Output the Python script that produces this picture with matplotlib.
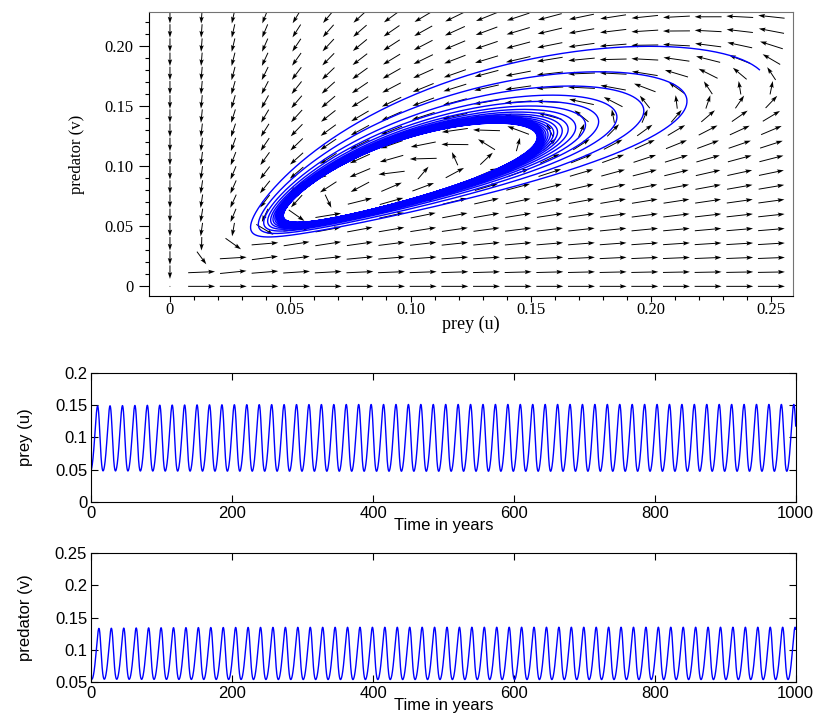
import numpy as np
import matplotlib
matplotlib.use("Agg")
import matplotlib.pyplot as plt

# Holling-Tanner predator-prey model, scaled:
#   du/dt = r [ u(1-u) - a u v / (u + d) ]
#   dv/dt = r b v (1 - h v / u)
a = 1.25       # predation rate
d = 0.03       # half saturation constant
b = 0.58       # predator / prey growth ratio
h = 1.0        # prey per predator at balance
r = 0.8164     # prey growth rate per year (gives the ~17.7 year cycle)

# starting points
u0_phase, v0_phase = 0.245, 0.18
u0_time, v0_time = 0.05, 0.055
t_phase = 400
t_end = 1000

# direction field grid
u_grid = np.linspace(0, 0.25, 20)
v_grid = np.linspace(0, 0.224, 20)


def rhs(u, v):
    du = r * (u * (1 - u) - a * u * v / (u + d))
    dv = r * b * v * (1 - h * v / np.maximum(u, 1e-6))
    return du, dv


def simulate(u, v, t_max, dt=0.05):
    n = int(t_max / dt)
    us = np.empty(n + 1)
    vs = np.empty(n + 1)
    us[0], vs[0] = u, v
    for i in range(n):
        k1u, k1v = rhs(u, v)
        k2u, k2v = rhs(u + dt / 2 * k1u, v + dt / 2 * k1v)
        k3u, k3v = rhs(u + dt / 2 * k2u, v + dt / 2 * k2v)
        k4u, k4v = rhs(u + dt * k3u, v + dt * k3v)
        u = u + dt / 6 * (k1u + 2 * k2u + 2 * k3u + k4u)
        v = v + dt / 6 * (k1v + 2 * k2v + 2 * k3v + k4v)
        us[i + 1], vs[i + 1] = u, v
    return np.arange(n + 1) * dt, us, vs


_, up, vp = simulate(u0_phase, v0_phase, t_phase)
t, ut, vt = simulate(u0_time, v0_time, t_end)

fig = plt.figure(figsize=(8.22, 7.17), dpi=100)

# ---- phase plane with direction field ----
ax1 = fig.add_axes([0.1813, 0.5872, 0.7835, 0.3961])
U, V = np.meshgrid(u_grid, v_grid)
dU, dV = rhs(U, V)
mag = np.hypot(dU, dV)
mag[mag == 0] = 1
L = 0.0112
ax1.quiver(U, V, L * dU / mag, L * dV / mag, angles="xy", scale_units="xy", scale=1,
           pivot="middle", width=0.0015, headwidth=4.5, headlength=7, headaxislength=6,
           color="black")
ax1.plot(up, vp, color="blue", lw=1.0)
ax1.set_xlim(-0.0087, 0.259)
ax1.set_ylim(-0.008, 0.228)
ax1.set_xticks([0, 0.05, 0.10, 0.15, 0.20, 0.25])
ax1.set_xticklabels(["0", "0.05", "0.10", "0.15", "0.20", "0.25"])
ax1.set_yticks([0, 0.05, 0.10, 0.15, 0.20])
ax1.set_yticklabels(["0", "0.05", "0.10", "0.15", "0.20"])
ax1.set_xticks(np.arange(0, 0.26, 0.01), minor=True)
ax1.set_yticks(np.arange(0, 0.23, 0.01), minor=True)
ax1.tick_params(axis="y", which="major", direction="out", length=7, width=0.8, pad=4, labelsize=12)
ax1.tick_params(axis="x", which="major", direction="out", length=4, width=0.8, pad=0, labelsize=12)
ax1.tick_params(which="minor", direction="out", length=3, width=0.8)
for lab in ax1.get_xticklabels() + ax1.get_yticklabels():
    lab.set_family("Liberation Serif")
for s in ["top", "right"]:
    ax1.spines[s].set_color("0.45")
    ax1.spines[s].set_linewidth(0.8)
ax1.set_xlabel("prey (u)", family="Liberation Serif", fontsize=13, labelpad=-1)
ax1.set_ylabel("predator (v)", family="Liberation Serif", fontsize=12, labelpad=14)


# ---- time series ----
def style(ax, yticks, ylim, ylabel):
    ax.set_xlim(0, 1000)
    ax.set_ylim(*ylim)
    ax.set_xticks([0, 200, 400, 600, 800, 1000])
    ax.set_yticks(yticks)
    ax.set_yticklabels([("%g" % y) for y in yticks])
    ax.tick_params(direction="in", length=5, width=0.8, top=True, right=True, labelsize=12, pad=3)
    for lab in ax.get_xticklabels() + ax.get_yticklabels():
        lab.set_family("Liberation Sans")
    ax.set_xlabel("Time in years", family="Liberation Sans", fontsize=12, labelpad=-2)
    ax.set_ylabel(ylabel, family="Liberation Sans", fontsize=12, labelpad=16)


ax2 = fig.add_axes([0.1111, 0.3003, 0.8569, 0.1791])
ax2.plot(t, ut, color="blue", lw=1.0)
style(ax2, [0, 0.05, 0.1, 0.15, 0.2], (0, 0.2), "prey (u)")

ax3 = fig.add_axes([0.1111, 0.0492, 0.8569, 0.1791])
ax3.plot(t, vt, color="blue", lw=1.0)
style(ax3, [0.05, 0.1, 0.15, 0.2, 0.25], (0.05, 0.25), "predator (v)")

fig.savefig("out.png", dpi=100)
